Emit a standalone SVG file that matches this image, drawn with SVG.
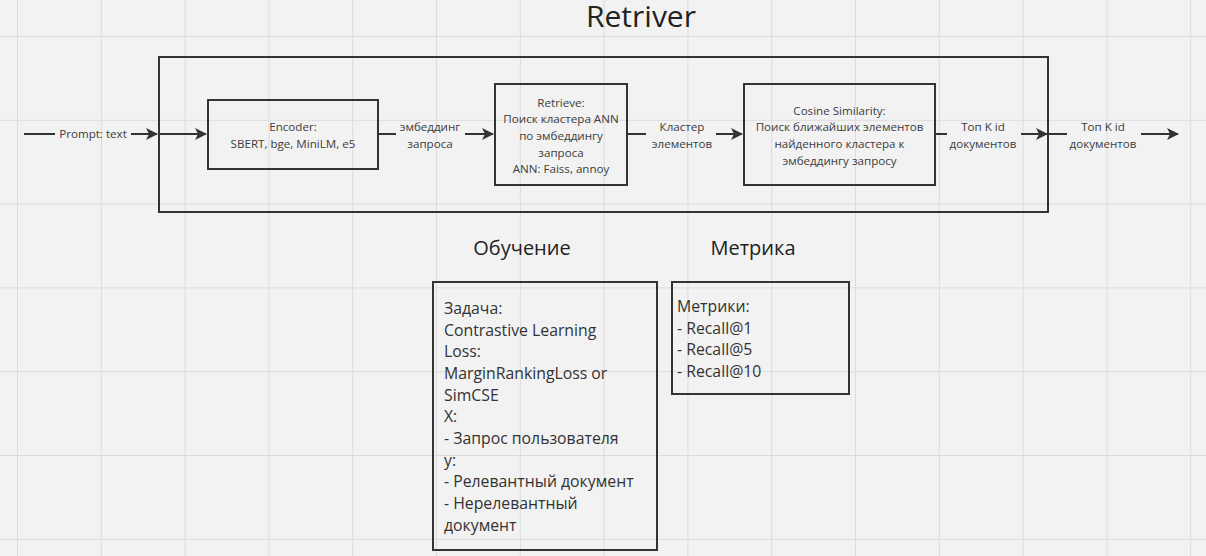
<svg xmlns="http://www.w3.org/2000/svg" width="1206" height="556" viewBox="0 0 1206 556">
<defs>
<pattern id="grid" x="17" y="36" width="83.8" height="83.8" patternUnits="userSpaceOnUse">
<path d="M0 0H83.8M0 0V83.8" fill="none" stroke="#dcdcdc" stroke-width="2"/>
</pattern>
<marker id="arr" viewBox="0 0 12 12" refX="11" refY="6" markerWidth="12" markerHeight="12" markerUnits="userSpaceOnUse" orient="auto">
<path d="M0 0L12 6L0 12L3 6Z" fill="#333"/>
</marker>
<style>
.box{fill:none;stroke:#333;stroke-width:2}
.ln{fill:none;stroke:#333;stroke-width:2}
.t{font-family:"Open Sans","Noto Sans",sans-serif;fill:#3c3c3c;font-size:11.6px;text-anchor:middle}
.b{font-family:"Open Sans","Noto Sans",sans-serif;fill:#333;font-size:15.8px}
.h{font-family:"Open Sans","Noto Sans",sans-serif;fill:#222;font-size:20px;text-anchor:middle}
</style>
</defs>
<rect width="1206" height="556" fill="#f2f2f2"/>
<rect width="1206" height="556" fill="url(#grid)"/>
<text x="641" y="27" class="h" style="font-size:30px">Retriver</text>

<g id="retriever-frame"><rect class="box" x="159" y="57" width="889" height="155"/></g>

<g id="encoder">
<rect class="box" x="208" y="100" width="170" height="69"/>
<text class="t" x="293" y="131">Encoder:</text>
<text class="t" x="293" y="148">SBERT, bge, MiniLM, e5</text>
</g>

<g id="retrieve">
<rect class="box" x="495" y="84" width="132" height="101"/>
<text class="t" x="561" y="107">Retrieve:</text>
<text class="t" x="561" y="123">Поиск кластера ANN</text>
<text class="t" x="561" y="140">по эмбеддингу</text>
<text class="t" x="561" y="157">запроса</text>
<text class="t" x="561" y="173">ANN: Faiss, annoy</text>
</g>

<g id="cosine">
<rect class="box" x="744" y="84" width="191" height="101"/>
<text class="t" x="839.5" y="115">Cosine Similarity:</text>
<text class="t" x="839.5" y="131">Поиск ближайших элементов</text>
<text class="t" x="839.5" y="148">найденного кластера к</text>
<text class="t" x="839.5" y="165">эмбеддингу запросу</text>
</g>

<g id="connectors">
<path class="ln" d="M24 134H55"/>
<path class="ln" d="M131 134H157" marker-end="url(#arr)"/>
<text class="t" x="93" y="138">Prompt: text</text>
<path class="ln" d="M159 134H206" marker-end="url(#arr)"/>
<path class="ln" d="M379 134H396"/>
<path class="ln" d="M465 134H493" marker-end="url(#arr)"/>
<text class="t" x="430" y="131">эмбеддинг</text>
<text class="t" x="430" y="148">запроса</text>
<path class="ln" d="M628 134H646"/>
<path class="ln" d="M716 134H742" marker-end="url(#arr)"/>
<text class="t" x="682" y="131">Кластер</text>
<text class="t" x="682" y="148">элементов</text>
<path class="ln" d="M936 134H947"/>
<path class="ln" d="M1021 134H1047" marker-end="url(#arr)"/>
<text class="t" x="983" y="131">Топ K id</text>
<text class="t" x="983" y="148">документов</text>
<path class="ln" d="M1049 134H1067"/>
<path class="ln" d="M1141 134H1178" marker-end="url(#arr)"/>
<text class="t" x="1103" y="131">Топ K id</text>
<text class="t" x="1103" y="148">документов</text>
</g>

<g id="training">
<text class="h" x="522" y="255">Обучение</text>
<rect class="box" x="433" y="282" width="224" height="268"/>
<text class="b" x="444" y="314">Задача:</text>
<text class="b" x="444" y="336">Contrastive Learning</text>
<text class="b" x="444" y="357">Loss:</text>
<text class="b" x="444" y="379">MarginRankingLoss or</text>
<text class="b" x="444" y="401">SimCSE</text>
<text class="b" x="444" y="422">X:</text>
<text class="b" x="444" y="444">- Запрос пользователя</text>
<text class="b" x="444" y="466">y:</text>
<text class="b" x="444" y="487">- Релевантный документ</text>
<text class="b" x="444" y="509">- Нерелевантный</text>
<text class="b" x="444" y="531">документ</text>
</g>

<g id="metrics">
<text class="h" x="753" y="255">Метрика</text>
<rect class="box" x="672" y="282" width="177" height="112"/>
<text class="b" x="677" y="312">Метрики:</text>
<text class="b" x="677" y="334">- Recall@1</text>
<text class="b" x="677" y="355">- Recall@5</text>
<text class="b" x="677" y="377">- Recall@10</text>
</g>
</svg>
